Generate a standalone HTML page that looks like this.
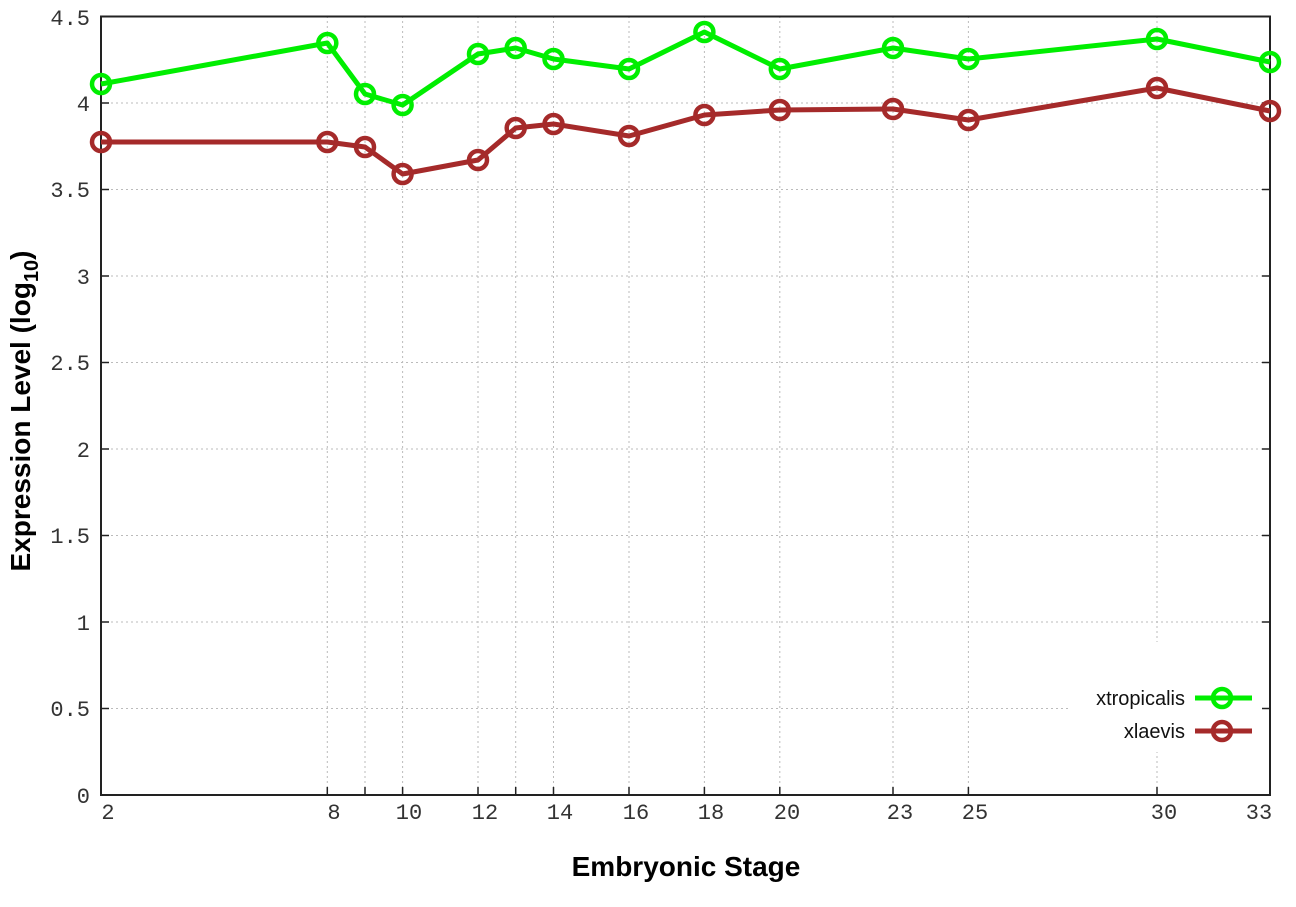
<!DOCTYPE html>
<html><head><meta charset="utf-8"><style>
body{margin:0;background:#fff}
svg{display:block}
.t{font-family:"Liberation Mono",monospace;font-size:22px;fill:#333}
.b{font-family:"Liberation Sans",sans-serif;font-weight:bold;font-size:28px;fill:#000}
</style></head><body>
<svg width="1296" height="907" xmlns="http://www.w3.org/2000/svg">
<g stroke="#bbb" stroke-width="1" stroke-dasharray="2,3">
<line x1="101" x2="1270" y1="708.5" y2="708.5"/><line x1="101" x2="1270" y1="622" y2="622"/>
<line x1="101" x2="1270" y1="535.5" y2="535.5"/><line x1="101" x2="1270" y1="449" y2="449"/>
<line x1="101" x2="1270" y1="362.5" y2="362.5"/><line x1="101" x2="1270" y1="276" y2="276"/>
<line x1="101" x2="1270" y1="189.5" y2="189.5"/><line x1="101" x2="1270" y1="103" y2="103"/>
<line y1="16" y2="795" x1="327.3" x2="327.3"/><line y1="16" y2="795" x1="365" x2="365"/>
<line y1="16" y2="795" x1="402.6" x2="402.6"/><line y1="16" y2="795" x1="478" x2="478"/>
<line y1="16" y2="795" x1="515.7" x2="515.7"/><line y1="16" y2="795" x1="553.5" x2="553.5"/>
<line y1="16" y2="795" x1="629" x2="629"/><line y1="16" y2="795" x1="704.4" x2="704.4"/>
<line y1="16" y2="795" x1="779.8" x2="779.8"/><line y1="16" y2="795" x1="893" x2="893"/>
<line y1="16" y2="795" x1="968.4" x2="968.4"/><line y1="16" y2="795" x1="1157" x2="1157"/>
</g>
<rect x="1070" y="642" width="198" height="110" fill="#fff"/>
<rect x="101" y="16.5" width="1169" height="778.5" fill="none" stroke="#222" stroke-width="2"/>
<g stroke="#222" stroke-width="1.5">
<path d="M101 708.5h8M101 622h8M101 535.5h8M101 449h8M101 362.5h8M101 276h8M101 189.5h8M101 103h8"/>
<path d="M1270 708.5h-8M1270 622h-8M1270 535.5h-8M1270 449h-8M1270 362.5h-8M1270 276h-8M1270 189.5h-8M1270 103h-8"/>
<path d="M327.3 795v-8M365 795v-8M402.6 795v-8M478 795v-8M515.7 795v-8M553.5 795v-8M629 795v-8M704.4 795v-8M779.8 795v-8M893 795v-8M968.4 795v-8M1157 795v-8"/>
</g>
<g class="t" text-anchor="end">
<text x="90" y="803">0</text><text x="90" y="716">0.5</text><text x="90" y="630">1</text>
<text x="90" y="543">1.5</text><text x="90" y="457">2</text><text x="90" y="370">2.5</text>
<text x="90" y="284">3</text><text x="90" y="197">3.5</text><text x="90" y="111">4</text><text x="90" y="25">4.5</text>
</g>
<g class="t" text-anchor="middle">
<text x="108" y="819">2</text><text x="334" y="819">8</text><text x="409" y="819">10</text>
<text x="485" y="819">12</text><text x="560" y="819">14</text><text x="636" y="819">16</text>
<text x="711" y="819">18</text><text x="787" y="819">20</text><text x="900" y="819">23</text>
<text x="975" y="819">25</text><text x="1164" y="819">30</text><text x="1259" y="819">33</text>
</g>
<g fill="none" stroke-width="5" stroke-linejoin="round">
<polyline stroke="#a52a2a" points="101,142 327.3,142 365,147 402.6,174 478,160 515.7,128 553.5,124 629,136 704.4,115 779.8,110 893,109 968.4,120 1157,88 1270,111"/>
<g stroke="#a52a2a" stroke-width="4.5">
<circle cx="101" cy="142" r="9"/><circle cx="327.3" cy="142" r="9"/><circle cx="365" cy="147" r="9"/><circle cx="402.6" cy="174" r="9"/><circle cx="478" cy="160" r="9"/><circle cx="515.7" cy="128" r="9"/><circle cx="553.5" cy="124" r="9"/><circle cx="629" cy="136" r="9"/><circle cx="704.4" cy="115" r="9"/><circle cx="779.8" cy="110" r="9"/><circle cx="893" cy="109" r="9"/><circle cx="968.4" cy="120" r="9"/><circle cx="1157" cy="88" r="9"/><circle cx="1270" cy="111" r="9"/>
</g>
<polyline stroke="#00ee00" points="101,84 327.3,43 365,94 402.6,105 478,54 515.7,48 553.5,59 629,69 704.4,32 779.8,69 893,48 968.4,59 1157,39 1270,62"/>
<g stroke="#00ee00" stroke-width="4.5">
<circle cx="101" cy="84" r="9"/><circle cx="327.3" cy="43" r="9"/><circle cx="365" cy="94" r="9"/><circle cx="402.6" cy="105" r="9"/><circle cx="478" cy="54" r="9"/><circle cx="515.7" cy="48" r="9"/><circle cx="553.5" cy="59" r="9"/><circle cx="629" cy="69" r="9"/><circle cx="704.4" cy="32" r="9"/><circle cx="779.8" cy="69" r="9"/><circle cx="893" cy="48" r="9"/><circle cx="968.4" cy="59" r="9"/><circle cx="1157" cy="39" r="9"/><circle cx="1270" cy="62" r="9"/>
</g>
<line x1="1195" x2="1252" y1="698" y2="698" stroke="#00ee00"/><circle cx="1222" cy="698" r="9" stroke="#00ee00" stroke-width="4.5"/>
<line x1="1195" x2="1252" y1="731" y2="731" stroke="#a52a2a"/><circle cx="1222" cy="731" r="9" stroke="#a52a2a" stroke-width="4.5"/>
</g>
<g font-family="Liberation Sans,sans-serif" font-size="20" text-anchor="end" fill="#111">
<text x="1185" y="705">xtropicalis</text><text x="1185" y="738">xlaevis</text>
</g>
<text class="b" x="686" y="876" text-anchor="middle">Embryonic Stage</text>
<text class="b" transform="translate(30,411) rotate(-90)" text-anchor="middle" font-size="29">Expression Level (log<tspan font-size="20" dy="8">10</tspan><tspan dy="-8">)</tspan></text>
</svg>
</body></html>
